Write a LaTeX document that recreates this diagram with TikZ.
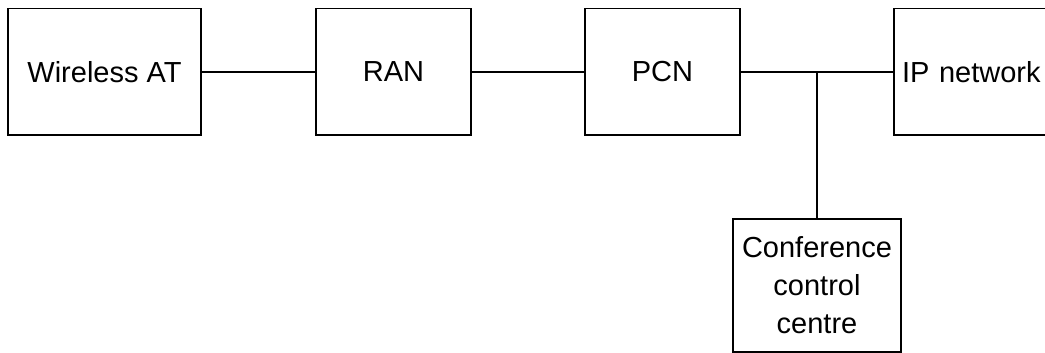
\documentclass[tikz,border=0pt]{standalone}
\usepackage{fontspec}
\setmainfont{Liberation Sans}
\begin{document}
\begin{tikzpicture}[x=1pt,y=-1pt,
  box/.style={draw, line width=1.6pt, inner sep=0pt, minimum height=126.5pt, font=\fontsize{29}{38}\selectfont},
  link/.style={line width=1.6pt}]
\useasboundingbox (0,0) rectangle (1045,353);
\node[box, minimum width=193pt] (wat) at (104.5,71.75) {Wireless AT};
\node[box, minimum width=155pt] (ran) at (393.5,71.75) {RAN};
\node[box, minimum width=155pt] (pcn) at (662.5,71.75) {PCN};
\node[box, inner xsep=8pt, text width=190pt, align=left] (ip) at (997,71.75) {IP network};
\node[box, minimum width=168pt, minimum height=133pt, align=center] (cc) at (817,285.5) {Conference\\control\\centre};
\coordinate (j) at (pcn.east -| cc.north);
\draw[link] (wat) -- (ran);
\draw[link] (ran) -- (pcn);
\draw[link] (pcn) -- (ip);
\draw[link] (cc.north) -- (j);
\end{tikzpicture}
\end{document}
